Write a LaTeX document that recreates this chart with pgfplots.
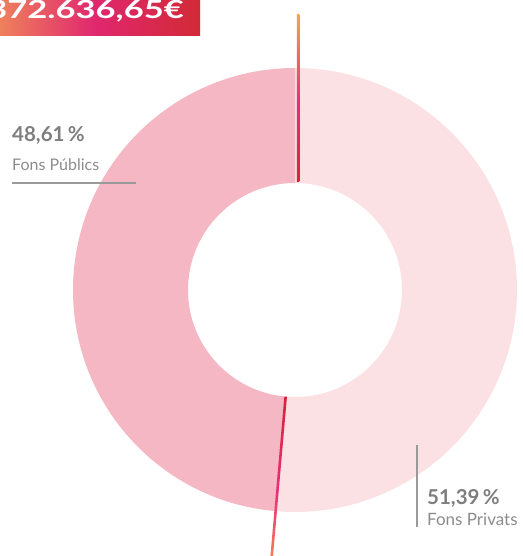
\documentclass[border=0pt]{standalone}
\usepackage{pgfplots}
\pgfplotsset{compat=1.18}
\usepackage{fontspec}
\setmainfont{Lato}
\usepackage{graphicx}
\definecolor{privcol}{HTML}{FCE1E4}
\definecolor{pubcol}{HTML}{F4B7C3}
\definecolor{lorange}{HTML}{F7A448}
\definecolor{lpink}{HTML}{E8307A}
\definecolor{lred}{HTML}{D3243A}
\definecolor{borange}{HTML}{F08A5B}
\definecolor{bmag}{HTML}{E0276E}
\definecolor{bred}{HTML}{D12A35}
\definecolor{txtgray}{HTML}{7E7E7E}
\definecolor{txtgray2}{HTML}{8C8C8C}
\definecolor{rulegray}{HTML}{9A9A9A}
\begin{document}
\begin{tikzpicture}
\useasboundingbox (0,0) rectangle (522pt,556pt);
\clip (0,0) rectangle (522pt,556pt);
\begin{axis}[at={(0,0)},anchor=south west,width=522pt,height=556pt,scale only axis,
  xmin=0,xmax=522,ymin=0,ymax=556,hide axis,clip=false]
% data: shares in percent
\def\priv{51.39}
\def\pub{48.61}
\pgfmathsetmacro\e{90-3.6*\priv}
\coordinate (c) at (axis cs:295,266);
% Fons Privats
\fill[privcol] ([shift={(90:222pt)}]c) arc[start angle=90,end angle=\e,radius=222pt]
  -- ([shift={(\e:107pt)}]c) arc[start angle=\e,end angle=90,radius=107pt] -- cycle;
% Fons Publics
\fill[pubcol] ([shift={(\e:222pt)}]c) arc[start angle=\e,end angle=-270,radius=222pt]
  -- ([shift={(90:107pt)}]c) arc[start angle=90,end angle=\e+360,radius=107pt] -- cycle;
% gradient separator lines
\shade[top color=lorange,bottom color=lred,middle color=lpink]
  (axis cs:296.8,541) rectangle (axis cs:299.4,374);
\shade[top color=lred,bottom color=lorange,middle color=lpink]
  ([shift={(\e:107pt)},xshift=-1.3pt]c) -- ([shift={(\e:300pt)},xshift=-1.3pt]c)
  -- ([shift={(\e:300pt)},xshift=1.3pt]c) -- ([shift={(\e:107pt)},xshift=1.3pt]c) -- cycle;
% banner
\shade[left color=borange,right color=bred,middle color=bmag]
  (axis cs:-10,556) rectangle (axis cs:200,520);
\node[anchor=base east,inner sep=0pt,text=white] at (axis cs:184,537.5)
  {\scalebox{1.38}[1]{\fontsize{25}{25}\selectfont\bfseries 372.636,65€}};
% labels
\node[anchor=base west,inner sep=0pt,text=txtgray] at (axis cs:12,414)
  {\fontsize{20.5}{20.5}\selectfont\bfseries 48,61\,\%};
\node[anchor=base west,inner sep=0pt,text=txtgray2] at (axis cs:12,385)
  {\fontsize{16}{16}\selectfont Fons Públics};
\draw[rulegray,line width=2pt] (axis cs:12,373) -- (axis cs:136,373);
\draw[rulegray,line width=2pt] (axis cs:417,111) -- (axis cs:417,29);
\node[anchor=base west,inner sep=0pt,text=txtgray] at (axis cs:427,52)
  {\fontsize{20.5}{20.5}\selectfont\bfseries 51,39\,\%};
\node[anchor=base west,inner sep=0pt,text=txtgray2] at (axis cs:427,31)
  {\fontsize{17}{17}\selectfont Fons Privats};
\end{axis}
\end{tikzpicture}
\end{document}
